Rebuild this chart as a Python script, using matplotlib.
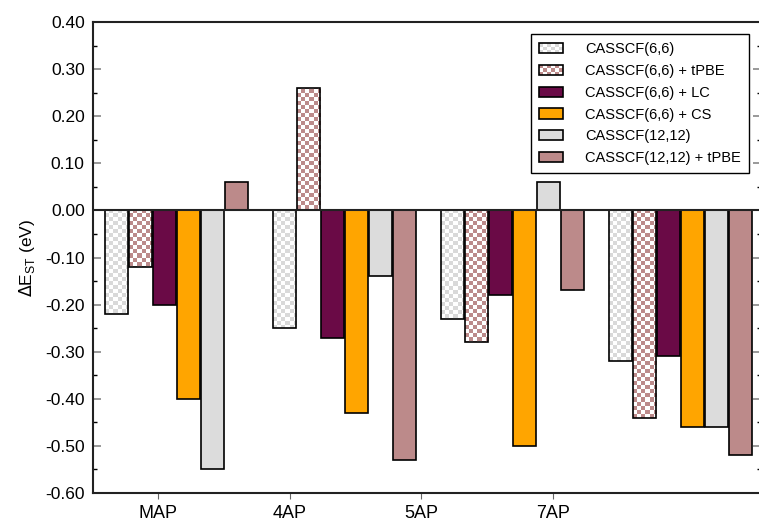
import numpy as np
import matplotlib
matplotlib.use("Agg")
import matplotlib.pyplot as plt
from matplotlib.patches import Rectangle
from matplotlib.legend_handler import HandlerBase
from matplotlib.ticker import MultipleLocator, FormatStrFormatter

plt.rcParams['font.family'] = ['Liberation Sans', 'DejaVu Sans']

# data
molecules = ["MAP", "4AP", "5AP", "7AP"]
methods = ["CASSCF(6,6)", "CASSCF(6,6) + tPBE", "CASSCF(6,6) + LC",
           "CASSCF(6,6) + CS", "CASSCF(12,12)", "CASSCF(12,12) + tPBE"]
casscf66 = [-0.22, -0.25, -0.23, -0.32]
casscf66_tpbe = [-0.12, 0.26, -0.28, -0.44]
casscf66_lc = [-0.20, -0.27, -0.18, -0.31]
casscf66_cs = [-0.40, -0.43, -0.50, -0.46]
casscf1212 = [-0.55, -0.14, 0.06, -0.46]
casscf1212_tpbe = [0.06, -0.53, -0.17, -0.52]
series = [casscf66, casscf66_tpbe, casscf66_lc, casscf66_cs, casscf1212, casscf1212_tpbe]

# style: (face colour, checker colour or None)
styles = [("white", "#d9d9d9"), ("white", "#bc8a8a"), ("#6a0a46", None),
          ("#ffa500", None), ("#dcdcdc", None), ("#bc8a8a", None)]

W, H = 759, 523
fig = plt.figure(figsize=(W / 100, H / 100), dpi=100)
ax = fig.add_axes([93 / W, (H - 493) / H, (761 - 93) / W, (493 - 22) / H])

xlim = (-0.979, 26.85)
ylim = (-0.60, 0.40)


def checker_rgba(color, ny, nx):
    c = np.array(matplotlib.colors.to_rgba(color))
    img = np.ones((ny, nx, 4))
    yy, xx = np.mgrid[0:ny, 0:nx]
    mask = (yy + xx) % 2 == 0
    img[mask] = c
    return img


nslot = len(methods) + 1
base = np.arange(len(molecules)) * nslot
for i, (vals, (face, chk)) in enumerate(zip(series, styles)):
    bars = ax.bar(base + i, vals, width=23 / 24, color=face if chk is None else "none",
                  edgecolor="black", linewidth=1.2, zorder=2)
    if chk is not None:
        img = checker_rgba(chk, 118, 167)
        for b in bars:
            im = ax.imshow(img, extent=(xlim[0], xlim[1], ylim[0], ylim[1]), origin="lower",
                           interpolation="nearest", aspect="auto", zorder=1)
            im.set_clip_path(b)

ax.axhline(0, color="#222222", linewidth=1.5, zorder=3)
ax.set_xlim(*xlim)
ax.set_ylim(*ylim)

ax.yaxis.set_major_locator(MultipleLocator(0.1))
ax.yaxis.set_minor_locator(MultipleLocator(0.05))
ax.yaxis.set_major_formatter(FormatStrFormatter("%.2f"))
ax.tick_params(axis="y", which="major", direction="in", length=6, width=1.2,
               color="#888888", left=True, right=True, labelsize=12.5, pad=6)
ax.tick_params(axis="y", which="minor", direction="in", length=3, width=1.0,
               color="black", left=True, right=True)

label_pos = 1.73 + 5.48 * np.arange(len(molecules))
ax.set_xticks(label_pos)
ax.set_xticklabels(molecules)
ax.tick_params(axis="x", which="major", direction="out", length=4, width=0.8,
               color="#666666", labelsize=13, pad=5)
for s in ax.spines.values():
    s.set_linewidth(1.5)
    s.set_color("#222222")

ax.set_ylabel(r"$\Delta$E$_{\mathregular{ST}}$ (eV)", fontsize=12.5, labelpad=6)


class CheckerHandler(HandlerBase):
    def __init__(self, color):
        super().__init__()
        self.color = color

    def create_artists(self, legend, orig_handle, xdescent, ydescent, width, height,
                       fontsize, trans):
        x0, y0 = -xdescent, -ydescent
        arts = [Rectangle((x0, y0), width, height, facecolor="white", edgecolor="none",
                          transform=trans)]
        nx, ny = 6, 3
        cw, ch = width / nx, height / ny
        for r in range(ny):
            for c in range(nx):
                if (r + c) % 2 == 0:
                    arts.append(Rectangle((x0 + c * cw, y0 + r * ch), cw, ch,
                                          facecolor=self.color, edgecolor="none",
                                          transform=trans))
        arts.append(Rectangle((x0, y0), width, height, facecolor="none",
                              edgecolor="black", linewidth=1.2, transform=trans))
        return arts


handles = []
hmap = {}
for (face, chk) in styles:
    h = Rectangle((0, 0), 1, 1, facecolor=face, edgecolor="black", linewidth=1.2)
    handles.append(h)
    if chk is not None:
        hmap[h] = CheckerHandler(chk)

leg = ax.legend(handles, methods, handler_map=hmap, loc="upper right", fontsize=10.5,
                frameon=True, fancybox=False, framealpha=1, edgecolor="black",
                handlelength=1.65, handleheight=0.7, handletextpad=1.5,
                labelspacing=0.53, borderaxespad=0.85, borderpad=0.55)
leg.get_frame().set_linewidth(1.0)

fig.savefig("out.png", dpi=100)
